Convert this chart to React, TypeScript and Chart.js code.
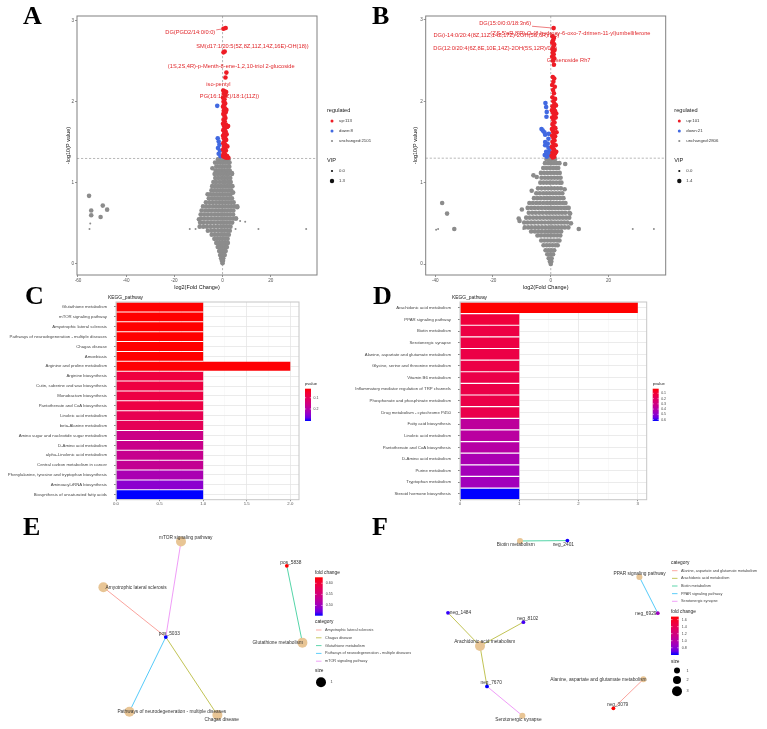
import React, { useEffect, useRef } from 'react';
import { Chart, registerables } from 'chart.js';

Chart.register(...registerables);

const SANS = "'Liberation Sans', Arial, Helvetica, sans-serif";
const SERIF = "'Liberation Serif', 'Times New Roman', Times, serif";
Chart.defaults.font.family = SANS;

type Pt = [number, number];
type Row = [number, number[]];

/* ---------------- Panel A: volcano plot ---------------- */
const volcA_xTicks = [-60, -40, -20, 0, 20];
const volcA_yTicks = [0, 1, 2, 3];
const volcA_regulated = ['up:113', 'down:8', 'unchanged:2101'];
const volcA_vipLevels = ['0.0', '1.3'];
const volcA_up: Pt[] = [
  [0.4, 2.9], [1.3, 2.91], [0.4, 2.61], [0.9, 2.62], [1.6, 2.36], [1.2, 2.3],
  [0.3, 2.14], [0.9, 2.13], [1.5, 2.12], [0.5, 2.1], [1.2, 2.08], [0.2, 2.05], [0.8, 2.03],
  [0.4, 2.0], [1.1, 1.98], [0.6, 1.96], [0.2, 1.94], [1.0, 1.92], [1.6, 1.9], [0.5, 1.89],
  [1.3, 1.87], [0.3, 1.85], [0.8, 1.83], [1.2, 1.8], [0.4, 1.78], [0.9, 1.76], [0.2, 1.73],
  [1.4, 1.72], [2.3, 1.7], [1.9, 1.69], [0.6, 1.7], [1.0, 1.67], [0.3, 1.65], [1.3, 1.63],
  [0.7, 1.61], [1.7, 1.6], [0.2, 1.58], [1.1, 1.57], [0.5, 1.55], [1.5, 1.53], [0.8, 1.51],
  [0.3, 1.49], [1.2, 1.47], [2.0, 1.45], [0.6, 1.45], [1.0, 1.43], [0.2, 1.41], [1.4, 1.4],
  [0.7, 1.38], [0.4, 1.36], [1.1, 1.35], [0.2, 1.33], [1.9, 1.33], [0.8, 1.32], [1.5, 1.31], [2.4, 1.31],
];
const volcA_down: Pt[] = [
  [-2.2, 1.95], [-2.0, 1.55], [-1.6, 1.51], [-1.3, 1.47], [-1.9, 1.43], [-1.1, 1.4], [-1.6, 1.36], [-0.9, 1.33],
];
const volcA_grayRows: Row[] = [
  [1.29, [-1.9, -0.7, 0.5, 1.6, 2.5]],
  [1.25, [-3.1, -2.0, -0.9, 0.2, 1.3, 2.4, 2.9]],
  [1.2, [-2.6, -1.4, -0.3, 0.8, 1.9, 2.8]],
  [1.15, [-2.9, -1.7, -0.5, 0.7, 1.8, 3.0]],
  [1.11, [-3.3, -2.1, -0.9, 0.3, 1.5, 2.5, 3.9]],
  [1.06, [-3.0, -1.7, -0.4, 0.8, 2.0, 3.2]],
  [1.01, [-3.8, -2.6, -1.2, 0.1, 1.2, 2.4, 3.4]],
  [0.96, [-4.3, -3.0, -1.8, -0.6, 0.7, 1.9, 3.0, 4.1]],
  [0.91, [-4.6, -3.4, -2.2, -1.0, 0.2, 1.4, 2.6, 3.6]],
  [0.86, [-5.1, -3.9, -2.6, -1.4, -0.2, 1.0, 2.2, 3.3]],
  [0.81, [-5.7, -4.4, -3.2, -2.0, -0.8, 0.5, 1.7, 2.9, 3.9]],
  [0.76, [-6.9, -5.5, -4.1, -2.7, -1.4, -0.2, 1.1, 2.3, 3.5, 4.6]],
  [0.71, [-8.1, -6.7, -5.3, -3.9, -2.6, -1.3, 0.0, 1.2, 2.5, 3.7, 4.9, 6.1]],
  [0.66, [-8.7, -7.2, -5.8, -4.4, -3.0, -1.7, -0.4, 0.9, 2.1, 3.3, 4.5]],
  [0.61, [-9.1, -7.7, -6.3, -4.8, -3.4, -2.0, -0.7, 0.6, 1.8, 3.1, 4.4]],
  [0.56, [-8.9, -7.4, -6.0, -4.5, -3.1, -1.8, -0.5, 0.8, 2.0, 3.2, 4.5, 5.6]],
  [0.51, [-9.3, -7.9, -6.4, -5.0, -3.6, -2.2, -0.9, 0.4, 1.6, 2.8, 4.0]],
  [0.46, [-9.5, -8.0, -6.5, -5.0, -3.5, -2.0, -0.6, 0.8, 2.0, 3.3]],
  [0.41, [-6.1, -4.6, -3.2, -1.8, -0.5, 0.8, 2.0, 3.0]],
  [0.36, [-4.5, -3.2, -2.0, -0.8, 0.4, 1.5, 2.6]],
  [0.31, [-3.4, -2.3, -1.2, -0.1, 1.0, 2.1]],
  [0.26, [-2.6, -1.6, -0.6, 0.4, 1.4, 2.2]],
  [0.21, [-2.0, -1.0, 0.0, 1.0, 1.8]],
  [0.16, [-1.4, -0.5, 0.5, 1.3]],
  [0.11, [-1.0, 0.0, 0.9]],
  [0.07, [-0.6, 0.3]],
  [0.04, [-0.3, 0.2]],
  [0.01, [0.0]],
];
const volcA_grayBig: Pt[] = [
  [-55.4, 0.84], [-54.5, 0.66], [-54.5, 0.6], [-49.7, 0.72], [-47.9, 0.67], [-50.6, 0.58],
  [3.9, 1.12], [6.1, 0.7], [5.5, 0.56], [-4.2, 1.18], [4.4, 0.88], [-6.2, 0.86], [-9.8, 0.55],
];
const volcA_graySmall: Pt[] = [
  [-54.9, 0.5], [-55.2, 0.43], [-13.6, 0.43], [-11.2, 0.43], [5.4, 0.43], [7.3, 0.53], [9.4, 0.52],
  [14.9, 0.43], [34.7, 0.43],
];
const volcA_labels = [
  { text: 'DG(PGD2/14:0/0:0)', at: [-13.4, 2.85], to: [0.4, 2.9] },
  { text: 'SM(d17:1/20:5(5Z,8Z,11Z,14Z,16E)-OH(18))', at: [12.4, 2.68] },
  { text: '(1S,2S,4R)-p-Menth-8-ene-1,2,10-triol 2-glucoside', at: [3.6, 2.43] },
  { text: 'iso-pentyl', at: [-1.7, 2.22] },
  { text: 'PG(16:1(9Z)/18:1(11Z))', at: [2.9, 2.06] },
];

/* ---------------- Panel B: volcano plot ---------------- */
const volcB_xTicks = [-40, -20, 0, 20];
const volcB_yTicks = [0, 1, 2, 3];
const volcB_regulated = ['up:101', 'down:21', 'unchanged:2806'];
const volcB_vipLevels = ['0.0', '1.4'];
const volcB_up: Pt[] = [
  [1.0, 2.9], [0.6, 2.8], [1.1, 2.78], [0.8, 2.75], [0.5, 2.72], [1.2, 2.7], [0.9, 2.67], [0.6, 2.64],
  [1.3, 2.63], [0.7, 2.6], [1.0, 2.58], [0.5, 2.55], [1.2, 2.53], [0.8, 2.5], [1.1, 2.45],
  [0.7, 2.3], [1.2, 2.28], [0.9, 2.24], [0.5, 2.2], [1.4, 2.18], [0.8, 2.14], [1.1, 2.1], [0.6, 2.05],
  [1.5, 2.03], [0.9, 2.0], [1.3, 1.97], [0.6, 1.94], [1.8, 1.95], [1.1, 1.92], [0.4, 1.89], [1.5, 1.88],
  [1.9, 1.85], [0.8, 1.86], [1.2, 1.83], [0.5, 1.8], [1.7, 1.8], [0.9, 1.77], [1.3, 1.74], [0.6, 1.72],
  [1.0, 1.69], [1.6, 1.67], [0.4, 1.66], [0.8, 1.63], [2.0, 1.62], [1.2, 1.61], [0.5, 1.58], [1.5, 1.57],
  [0.9, 1.55], [1.3, 1.52], [0.6, 1.5], [1.0, 1.47], [1.7, 1.46], [0.4, 1.44], [0.8, 1.42], [1.2, 1.4],
  [1.9, 1.38], [0.6, 1.37], [1.5, 1.36], [0.9, 1.34], [0.3, 1.33], [1.2, 1.32], [0.7, 1.31],
];
const volcB_down: Pt[] = [
  [-1.84, 1.98], [-1.6, 1.93], [-1.39, 1.87], [-1.49, 1.81], [-3.2, 1.66], [-2.77, 1.64], [-2.2, 1.62],
  [-1.94, 1.59], [-0.69, 1.6], [-0.8, 1.54], [-1.94, 1.5], [-1.04, 1.48], [-1.94, 1.46], [-0.8, 1.43],
  [-0.45, 1.39], [-1.6, 1.38], [-0.9, 1.36], [-2.08, 1.34], [-1.39, 1.32], [-0.45, 1.34], [-0.1, 1.36],
];
const volcB_grayRows: Row[] = [
  [1.29, [-1.5, -0.5, 0.5, 1.5]],
  [1.24, [-2.0, -0.9, 0.1, 1.1, 2.1]],
  [1.18, [-2.6, -1.5, -0.4, 0.7, 1.7, 2.6]],
  [1.12, [-3.4, -2.3, -1.2, -0.1, 1.0, 2.1, 3.1]],
  [1.06, [-3.2, -2.0, -0.9, 0.2, 1.3, 2.4, 3.4]],
  [1.0, [-3.6, -2.5, -1.4, -0.3, 0.8, 1.9, 3.0, 3.7]],
  [0.93, [-4.4, -3.2, -2.0, -0.9, 0.2, 1.3, 2.4, 3.5]],
  [0.87, [-5.0, -3.8, -2.6, -1.5, -0.4, 0.7, 1.8, 2.9, 4.0]],
  [0.81, [-5.8, -4.6, -3.4, -2.2, -1.1, 0.0, 1.1, 2.2, 3.3, 4.4]],
  [0.75, [-7.4, -6.2, -5.0, -3.8, -2.6, -1.4, -0.3, 0.8, 1.9, 3.0, 4.1, 5.1]],
  [0.69, [-8.0, -6.8, -5.6, -4.4, -3.2, -2.0, -0.9, 0.2, 1.3, 2.4, 3.5, 4.6, 5.6]],
  [0.63, [-7.6, -6.4, -5.2, -4.0, -2.8, -1.6, -0.5, 0.6, 1.7, 2.8, 3.9, 5.0, 6.4]],
  [0.57, [-8.5, -7.3, -6.1, -4.9, -3.7, -2.5, -1.3, -0.2, 0.9, 2.0, 3.1, 4.2, 5.3, 6.4]],
  [0.51, [-9.2, -8.0, -6.8, -5.6, -4.4, -3.2, -2.0, -0.8, 0.3, 1.4, 2.5, 3.6, 4.7, 5.8]],
  [0.45, [-9.0, -7.8, -6.6, -5.4, -4.2, -3.0, -1.8, -0.6, 0.5, 1.6, 2.7, 3.8, 4.9, 6.1]],
  [0.4, [-6.8, -5.5, -4.3, -3.1, -1.9, -0.8, 0.3, 1.4, 2.5, 3.6]],
  [0.35, [-4.6, -3.4, -2.2, -1.1, 0.0, 1.1, 2.2, 3.3]],
  [0.29, [-3.3, -2.2, -1.1, 0.0, 1.1, 2.2, 3.0]],
  [0.23, [-2.5, -1.4, -0.4, 0.6, 1.6, 2.4]],
  [0.17, [-1.8, -0.8, 0.2, 1.2]],
  [0.12, [-1.2, -0.2, 0.8]],
  [0.07, [-0.7, 0.3]],
  [0.03, [-0.3, 0.2]],
  [0.0, [0.0]],
];
const volcB_grayBig: Pt[] = [
  [-37.6, 0.75], [-35.9, 0.62], [-33.4, 0.43], [3.0, 1.24], [5.0, 1.23], [-6.0, 1.09], [-4.85, 1.07],
  [-10.0, 0.67], [-10.8, 0.53], [-11.1, 0.56], [6.2, 0.69], [6.7, 0.62], [9.7, 0.43], [4.8, 0.92],
  [-6.6, 0.9], [7.0, 0.5],
];
const volcB_graySmall: Pt[] = [[-39.0, 0.43], [-39.7, 0.42], [28.4, 0.43], [35.7, 0.43], [-9.5, 0.43]];
const volcB_labels = [
  { text: 'DG(15:0/0:0/18:3n6)', at: [-15.8, 2.96], to: [1.0, 2.9] },
  { text: "(2'S,5'aR,8'R)-O-(8-hydroxy-6-oxo-7-drimen-11-yl)umbelliferone", at: [6.8, 2.84] },
  { text: 'DG(i-14:0/20:4(8Z,11Z,14Z,17Z)-2OH(5S,6R)/0:0)', at: [-18.8, 2.81] },
  { text: 'DG(12:0/20:4(6Z,8E,10E,14Z)-2OH(5S,12R)/0:0)', at: [-19.2, 2.65] },
  { text: 'Ginsenoside Rh7', at: [6.2, 2.5], to: [0.7, 2.62] },
];

/* ---------------- Panel C: KEGG enrichment ---------------- */
const keggC_pathways = [
  'Glutathione metabolism',
  'mTOR signaling pathway',
  'Amyotrophic lateral sclerosis',
  'Pathways of neurodegeneration - multiple diseases',
  'Chagas disease',
  'Amoebiasis',
  'Arginine and proline metabolism',
  'Arginine biosynthesis',
  'Cutin, suberine and wax biosynthesis',
  'Monobactam biosynthesis',
  'Pantothenate and CoA biosynthesis',
  'Linoleic acid metabolism',
  'beta-Alanine metabolism',
  'Amino sugar and nucleotide sugar metabolism',
  'D-Amino acid metabolism',
  'alpha-Linolenic acid metabolism',
  'Central carbon metabolism in cancer',
  'Phenylalanine, tyrosine and tryptophan biosynthesis',
  'Aminoacyl-tRNA biosynthesis',
  'Biosynthesis of unsaturated fatty acids',
];
const keggC_counts = [1, 1, 1, 1, 1, 1, 2, 1, 1, 1, 1, 1, 1, 1, 1, 1, 1, 1, 1, 1];
const keggC_pvalues = [
  0.02, 0.02, 0.02, 0.02, 0.02, 0.02, 0.022, 0.072, 0.074, 0.076, 0.078, 0.095, 0.1,
  0.16, 0.165, 0.17, 0.175, 0.215, 0.25, 0.3065,
];
const keggC_xMajor = [0, 0.5, 1, 1.5, 2];
const keggC_xMinor = [0.25, 0.75, 1.25, 1.75];
const keggC_pTicks = [0.1, 0.2];

/* ---------------- Panel D: KEGG enrichment ---------------- */
const keggD_pathways = [
  'Arachidonic acid metabolism',
  'PPAR signaling pathway',
  'Biotin metabolism',
  'Serotonergic synapse',
  'Alanine, aspartate and glutamate metabolism',
  'Glycine, serine and threonine metabolism',
  'Vitamin B6 metabolism',
  'Inflammatory mediator regulation of TRP channels',
  'Phosphonate and phosphinate metabolism',
  'Drug metabolism - cytochrome P450',
  'Fatty acid biosynthesis',
  'Linoleic acid metabolism',
  'Pantothenate and CoA biosynthesis',
  'D-Amino acid metabolism',
  'Purine metabolism',
  'Tryptophan metabolism',
  'Steroid hormone biosynthesis',
];
const keggD_counts = [3, 1, 1, 1, 1, 1, 1, 1, 1, 1, 1, 1, 1, 1, 1, 1, 1];
const keggD_pvalues = [
  0.0116, 0.116, 0.135, 0.135, 0.141, 0.141, 0.147, 0.147, 0.147, 0.153,
  0.368, 0.381, 0.393, 0.43, 0.448, 0.454, 0.627,
];
const keggD_xMajor = [0, 1, 2, 3];
const keggD_xMinor = [0.5, 1.5, 2.5];
const keggD_pTicks = [0.1, 0.2, 0.3, 0.4, 0.5, 0.6];

/* ---------------- Panel E: gene–pathway network ---------------- */
const netE_pathways = [
  { name: 'Amyotrophic lateral sclerosis', x: 1.17, y: 6.87, size: 1 },
  { name: 'Chagas disease', x: 6.87, y: 0.45, size: 1 },
  { name: 'Glutathione metabolism', x: 11.12, y: 4.09, size: 1 },
  { name: 'Pathways of neurodegeneration - multiple diseases', x: 2.47, y: 0.62, size: 1 },
  { name: 'mTOR signaling pathway', x: 5.05, y: 9.17, size: 1 },
];
const netE_genes = [
  { name: 'pos_5033', x: 4.29, y: 4.37, fc: 0.454 },
  { name: 'pos_5838', x: 10.34, y: 7.95, fc: 0.627 },
];
const netE_links: [string, string][] = [
  ['pos_5033', 'Amyotrophic lateral sclerosis'],
  ['pos_5033', 'mTOR signaling pathway'],
  ['pos_5033', 'Pathways of neurodegeneration - multiple diseases'],
  ['pos_5033', 'Chagas disease'],
  ['pos_5838', 'Glutathione metabolism'],
];
const netE_fcTicks = [0.6, 0.55, 0.5];
const netE_sizeBreaks = [1];

/* ---------------- Panel F: gene–pathway network ---------------- */
const netF_pathways = [
  { name: 'Alanine, aspartate and glutamate metabolism', x: 10.17, y: 2.25, size: 1 },
  { name: 'Arachidonic acid metabolism', x: 2.0, y: 3.92, size: 3 },
  { name: 'Biotin metabolism', x: 4.0, y: 9.2, size: 1 },
  { name: 'PPAR signaling pathway', x: 9.97, y: 7.39, size: 1 },
  { name: 'Serotonergic synapse', x: 4.12, y: 0.42, size: 1 },
];
const netF_genes = [
  { name: 'neg_2401', x: 6.37, y: 9.22, fc: 0.6 },
  { name: 'neg_6929', x: 10.89, y: 5.57, fc: 0.88 },
  { name: 'neg_1484', x: 0.4, y: 5.59, fc: 0.62 },
  { name: 'neg_8102', x: 4.17, y: 5.12, fc: 0.64 },
  { name: 'neg_7670', x: 2.35, y: 1.89, fc: 0.594 },
  { name: 'neg_3079', x: 8.67, y: 0.79, fc: 1.685 },
];
const netF_links: [string, string][] = [
  ['neg_2401', 'Biotin metabolism'],
  ['neg_6929', 'PPAR signaling pathway'],
  ['neg_1484', 'Arachidonic acid metabolism'],
  ['neg_8102', 'Arachidonic acid metabolism'],
  ['neg_7670', 'Arachidonic acid metabolism'],
  ['neg_7670', 'Serotonergic synapse'],
  ['neg_3079', 'Alanine, aspartate and glutamate metabolism'],
];
const netF_fcTicks = [1.6, 1.4, 1.2, 1.0, 0.8];
const netF_sizeBreaks = [1, 2, 3];

/* ---------------- colour helpers ---------------- */
function labFromRgb(rgb: number[]) {
  const lin = rgb.map((c) => {
    const v = c / 255;
    return v <= 0.04045 ? v / 12.92 : Math.pow((v + 0.055) / 1.055, 2.4);
  });
  const X = (0.4124 * lin[0] + 0.3576 * lin[1] + 0.1805 * lin[2]) / 0.95047;
  const Y = 0.2126 * lin[0] + 0.7152 * lin[1] + 0.0722 * lin[2];
  const Z = (0.0193 * lin[0] + 0.1192 * lin[1] + 0.9505 * lin[2]) / 1.08883;
  const f = (t: number) => (t > 0.008856 ? Math.cbrt(t) : 7.787 * t + 16 / 116);
  const fx = f(X), fy = f(Y), fz = f(Z);
  return [116 * fy - 16, 500 * (fx - fy), 200 * (fy - fz)];
}
function rgbFromLab(lab: number[]) {
  const [L, a, b] = lab;
  const fy = (L + 16) / 116, fx = fy + a / 500, fz = fy - b / 200;
  const inv = (t: number) => (t * t * t > 0.008856 ? t * t * t : (t - 16 / 116) / 7.787);
  const X = 0.95047 * inv(fx), Y = inv(fy), Z = 1.08883 * inv(fz);
  const r = 3.2406 * X - 1.5372 * Y - 0.4986 * Z;
  const g = -0.9689 * X + 1.8758 * Y + 0.0415 * Z;
  const bl = 0.0557 * X - 0.204 * Y + 1.057 * Z;
  const enc = (c: number) => {
    const cc = Math.max(0, c);
    const v = cc <= 0.0031308 ? 12.92 * cc : 1.055 * Math.pow(cc, 1 / 2.4) - 0.055;
    return Math.round(Math.min(1, Math.max(0, v)) * 255);
  };
  return `rgb(${enc(r)},${enc(g)},${enc(bl)})`;
}
const LAB_RED = labFromRgb([255, 0, 0]);
const LAB_BLUE = labFromRgb([0, 0, 255]);
// t = 0 -> red, t = 1 -> blue, blended in CIELAB
function redToBlue(t: number) {
  const k = Math.min(1, Math.max(0, t));
  return rgbFromLab(LAB_RED.map((v, i) => v + (LAB_BLUE[i] - v) * k));
}
const HUE5 = ['#F8766D', '#A3A500', '#00BF7D', '#00B0F6', '#E76BF3'];
function withAlpha(hex: string, a: number) {
  const n = parseInt(hex.slice(1), 16);
  return `rgba(${(n >> 16) & 255},${(n >> 8) & 255},${n & 255},${a})`;
}

const UP_RED = '#EE1C25';
const DOWN_BLUE = '#4169E1';
const NC_GRAY = '#8C8C8C';
const LABEL_RED = '#E0262A';
const NODE_TAN = '#E8C595';

const toXY = (p: Pt) => ({ x: p[0], y: p[1] });
const rowsToXY = (rows: Row[]) => rows.flatMap(([y, xs]) => xs.map((x) => ({ x, y })));

/* ---------------- plugins ---------------- */
const volcanoDecor = {
  id: 'volcanoDecor',
  beforeDatasetsDraw(chart: any, _a: any, o: any) {
    const { ctx, chartArea: a, scales } = chart;
    ctx.save();
    ctx.strokeStyle = '#9a9a9a';
    ctx.lineWidth = 0.7;
    ctx.setLineDash([2.2, 1.8]);
    const yp = scales.y.getPixelForValue(o.pCut);
    ctx.beginPath();
    ctx.moveTo(a.left, yp);
    ctx.lineTo(a.right, yp);
    ctx.stroke();
    const xp = scales.x.getPixelForValue(0);
    ctx.beginPath();
    ctx.moveTo(xp, a.top);
    ctx.lineTo(xp, a.bottom);
    ctx.stroke();
    ctx.restore();
  },
  afterDatasetsDraw(chart: any, _a: any, o: any) {
    const { ctx, chartArea: a, scales } = chart;
    ctx.save();
    // compound labels
    ctx.font = `5.7px ${SANS}`;
    ctx.fillStyle = LABEL_RED;
    ctx.strokeStyle = LABEL_RED;
    ctx.lineWidth = 0.6;
    ctx.textAlign = 'center';
    ctx.textBaseline = 'middle';
    for (const lb of o.labels) {
      const cx = scales.x.getPixelForValue(lb.at[0]);
      const cy = scales.y.getPixelForValue(lb.at[1]);
      if (lb.to) {
        const w = ctx.measureText(lb.text).width;
        const tx = scales.x.getPixelForValue(lb.to[0]);
        const ty = scales.y.getPixelForValue(lb.to[1]);
        const sx = Math.min(Math.max(tx, cx - w / 2 - 1), cx + w / 2 + 1);
        const sy = Math.min(Math.max(ty, cy - 3), cy + 3);
        ctx.beginPath();
        ctx.moveTo(sx, sy);
        ctx.lineTo(tx, ty);
        ctx.stroke();
      }
      ctx.fillText(lb.text, cx, cy);
    }
    // panel frame
    ctx.strokeStyle = '#808080';
    ctx.lineWidth = 1;
    ctx.strokeRect(a.left, a.top, a.right - a.left, a.bottom - a.top);
    // legend
    const lx = a.right + o.legendGap;
    ctx.textAlign = 'left';
    ctx.fillStyle = '#1a1a1a';
    ctx.font = `5.6px ${SANS}`;
    ctx.fillText('regulated', lx, 110);
    ctx.fillText('VIP', lx, 160);
    ctx.font = `4.3px ${SANS}`;
    o.regulated.forEach((t: string, i: number) => {
      const y = 121 + i * 10;
      ctx.fillStyle = [UP_RED, DOWN_BLUE, NC_GRAY][i];
      ctx.beginPath();
      ctx.arc(lx + 5, y, i < 2 ? 1.5 : 1.1, 0, Math.PI * 2);
      ctx.fill();
      ctx.fillStyle = '#333';
      ctx.fillText(t, lx + 12, y);
    });
    o.vip.forEach((t: string, i: number) => {
      const y = 171 + i * 10;
      ctx.fillStyle = '#111';
      ctx.beginPath();
      ctx.arc(lx + 5, y, i === 0 ? 1.1 : 2.2, 0, Math.PI * 2);
      ctx.fill();
      ctx.fillStyle = '#333';
      ctx.fillText(t, lx + 12, y);
    });
    ctx.restore();
  },
};

const keggDecor = {
  id: 'keggDecor',
  afterDraw(chart: any, _a: any, o: any) {
    const { ctx, chartArea: a } = chart;
    ctx.save();
    ctx.strokeStyle = '#c6c6c6';
    ctx.lineWidth = 1;
    ctx.strokeRect(a.left, a.top, a.right - a.left, a.bottom - a.top);
    ctx.fillStyle = '#1a1a1a';
    ctx.font = `4.9px ${SANS}`;
    ctx.textAlign = 'left';
    ctx.textBaseline = 'middle';
    ctx.fillText('KEGG_pathway', a.left - 8, a.top - 4);
    // p-value colour bar
    const bx = a.right + 6;
    const top = a.top + 86.7;
    const bottom = a.top + 119;
    const bw = 6;
    ctx.font = `4.1px ${SANS}`;
    ctx.fillText('pvalue', bx, top - 5);
    const grad = ctx.createLinearGradient(0, top, 0, bottom);
    for (let i = 0; i <= 10; i++) grad.addColorStop(i / 10, redToBlue(i / 10));
    ctx.fillStyle = grad;
    ctx.fillRect(bx, top, bw, bottom - top);
    ctx.font = `3.5px ${SANS}`;
    ctx.fillStyle = '#444';
    ctx.strokeStyle = '#ffffff';
    ctx.lineWidth = 0.5;
    for (const v of o.ticks) {
      const y = top + ((v - o.pmin) / (o.pmax - o.pmin)) * (bottom - top);
      ctx.beginPath();
      ctx.moveTo(bx, y);
      ctx.lineTo(bx + 1.2, y);
      ctx.moveTo(bx + bw - 1.2, y);
      ctx.lineTo(bx + bw, y);
      ctx.stroke();
      ctx.fillText(String(v), bx + bw + 2.5, y);
    }
    ctx.restore();
  },
};

const netDecor = {
  id: 'netDecor',
  afterDatasetsDraw(chart: any, _a: any, o: any) {
    const { ctx, scales } = chart;
    ctx.save();
    ctx.font = `4.8px ${SANS}`;
    ctx.fillStyle = '#333';
    ctx.textAlign = 'center';
    ctx.textBaseline = 'middle';
    for (const n of o.nodes) {
      const d = o.nudges[n.name] || [0, 0];
      ctx.fillText(n.name, scales.x.getPixelForValue(n.x) + d[0], scales.y.getPixelForValue(n.y) + d[1]);
    }
    ctx.textAlign = 'left';
    for (const b of o.blocks) {
      ctx.fillStyle = '#222';
      ctx.font = `4.8px ${SANS}`;
      ctx.fillText(b.title, b.x, b.titleY);
      if (b.kind === 'colorbar') {
        const grad = ctx.createLinearGradient(0, b.top, 0, b.bottom);
        for (let i = 0; i <= 10; i++) grad.addColorStop(i / 10, redToBlue(i / 10));
        ctx.fillStyle = grad;
        ctx.fillRect(b.x, b.top, b.width, b.bottom - b.top);
        ctx.font = `3.6px ${SANS}`;
        ctx.strokeStyle = '#fff';
        ctx.lineWidth = 0.5;
        for (const v of b.ticks) {
          const y = b.top + ((b.vmax - v) / (b.vmax - b.vmin)) * (b.bottom - b.top);
          ctx.beginPath();
          ctx.moveTo(b.x, y);
          ctx.lineTo(b.x + 1.5, y);
          ctx.moveTo(b.x + b.width - 1.5, y);
          ctx.lineTo(b.x + b.width, y);
          ctx.stroke();
          ctx.fillStyle = '#444';
          ctx.fillText(v.toFixed(b.digits), b.x + b.width + 3, y);
        }
      } else if (b.kind === 'category') {
        ctx.font = `3.8px ${SANS}`;
        b.items.forEach((name: string, i: number) => {
          const y = b.firstY + i * b.step;
          ctx.strokeStyle = withAlpha(HUE5[i], 0.8);
          ctx.lineWidth = 0.8;
          ctx.beginPath();
          ctx.moveTo(b.x + 1, y);
          ctx.lineTo(b.x + 6.5, y);
          ctx.stroke();
          ctx.fillStyle = '#444';
          ctx.fillText(name, b.x + 10, y);
        });
      } else if (b.kind === 'size') {
        ctx.font = `3.8px ${SANS}`;
        b.circles.forEach((c: any) => {
          ctx.fillStyle = '#000';
          ctx.beginPath();
          ctx.arc(b.cx, c.y, c.r, 0, Math.PI * 2);
          ctx.fill();
          ctx.fillStyle = '#444';
          ctx.fillText(c.label, b.textX, c.y);
        });
      }
    }
    ctx.restore();
  },
};

/* ---------------- chart builders ---------------- */
const BASE = {
  animation: false,
  responsive: false,
  maintainAspectRatio: false,
  devicePixelRatio: 1,
  events: [] as string[],
};

function volcanoConfig(p: any) {
  const fixedTicks = (vals: number[]) => (s: any) => {
    s.ticks = vals.map((v) => ({ value: v }));
  };
  const tickFont = { size: 4.6 };
  return {
    type: 'scatter',
    data: {
      datasets: [
        { data: p.up.map(toXY), backgroundColor: UP_RED, pointRadius: 2.3, borderWidth: 0, order: 1 },
        { data: p.down.map(toXY), backgroundColor: DOWN_BLUE, pointRadius: 2.3, borderWidth: 0, order: 2 },
        {
          data: rowsToXY(p.grayRows).concat(p.grayBig.map(toXY)),
          backgroundColor: NC_GRAY, pointRadius: 2.3, borderWidth: 0, order: 3,
        },
        { data: p.graySmall.map(toXY), backgroundColor: NC_GRAY, pointRadius: 1.0, borderWidth: 0, order: 4 },
      ],
    },
    options: {
      ...BASE,
      layout: { padding: p.padding },
      plugins: {
        legend: { display: false },
        tooltip: { enabled: false },
        volcanoDecor: {
          pCut: -Math.log10(0.05),
          labels: p.labels,
          regulated: p.regulated,
          vip: p.vip,
          legendGap: p.legendGap,
        },
      },
      scales: {
        x: {
          type: 'linear',
          min: p.xRange[0],
          max: p.xRange[1],
          afterBuildTicks: fixedTicks(p.xTicks),
          afterFit: (s: any) => { s.height = p.xAxisHeight; },
          ticks: { font: tickFont, color: '#555', padding: 1, maxRotation: 0, callback: (v: any) => String(v) },
          grid: { drawOnChartArea: false, drawTicks: true, tickLength: 2, tickColor: '#666', lineWidth: 0.7 },
          border: { display: false },
          title: { display: true, text: 'log2(Fold Change)', font: { size: 5.5 }, color: '#111', padding: { top: 0, bottom: p.xTitlePad } },
        },
        y: {
          type: 'linear',
          min: p.yRange[0],
          max: p.yRange[1],
          afterBuildTicks: fixedTicks(p.yTicks),
          afterFit: (s: any) => { s.width = p.yAxisWidth; },
          ticks: { font: tickFont, color: '#555', padding: 1, callback: (v: any) => String(v) },
          grid: { drawOnChartArea: false, drawTicks: true, tickLength: 2, tickColor: '#666', lineWidth: 0.7 },
          border: { display: false },
          title: { display: true, text: '-log10(P value)', font: { size: 5.5 }, color: '#111', padding: { top: p.yTitlePad, bottom: 0 } },
        },
      },
    },
    plugins: [volcanoDecor],
  };
}

function keggConfig(p: any) {
  const pmin = Math.min(...p.pvalues);
  const pmax = Math.max(...p.pvalues);
  const isMajor = (v: number) => p.xMajor.some((m: number) => Math.abs(m - v) < 1e-9);
  return {
    type: 'bar',
    data: {
      labels: p.pathways,
      datasets: [
        {
          data: p.counts,
          backgroundColor: p.pvalues.map((v: number) => redToBlue((v - pmin) / (pmax - pmin))),
          borderWidth: 0,
          barPercentage: 0.9,
          categoryPercentage: 1,
        },
      ],
    },
    options: {
      ...BASE,
      indexAxis: 'y',
      layout: { padding: p.padding },
      plugins: {
        legend: { display: false },
        tooltip: { enabled: false },
        keggDecor: { pmin, pmax, ticks: p.pTicks },
      },
      scales: {
        x: {
          type: 'linear',
          min: 0,
          max: p.xMax,
          afterBuildTicks: (s: any) => {
            s.ticks = [...p.xMajor, ...p.xMinor].sort((a, b) => a - b).map((v) => ({ value: v }));
          },
          afterFit: (s: any) => { s.height = p.xAxisHeight; },
          ticks: {
            font: { size: 4.3 },
            color: '#555',
            padding: 0,
            maxRotation: 0,
            autoSkip: false,
            callback: (v: any) => (isMajor(v) ? p.fmt(v) : ''),
          },
          grid: {
            color: (c: any) => (isMajor(c.tick.value) ? '#e6e6e6' : '#f2f2f2'),
            lineWidth: (c: any) => (isMajor(c.tick.value) ? 0.8 : 0.5),
            tickColor: (c: any) => (isMajor(c.tick.value) ? '#666' : 'rgba(0,0,0,0)'),
            tickLength: 1.5,
          },
          border: { display: false },
        },
        y: {
          type: 'category',
          afterFit: (s: any) => { s.width = p.yAxisWidth; },
          ticks: { font: { size: 4.3 }, color: '#444', padding: 7, autoSkip: false },
          grid: { offset: false, color: '#e6e6e6', lineWidth: 0.8, tickLength: 2, tickColor: '#666' },
          border: { display: false },
        },
      },
    },
    plugins: [keggDecor],
  };
}

function networkConfig(p: any) {
  const sizes = p.pathways.map((c: any) => c.size);
  const smin = Math.min(...sizes);
  const smax = Math.max(...sizes);
  const radius = (s: number) => (smax === smin ? 5 : 3 + (2 * (s - smin)) / (smax - smin));
  const fcs = p.genes.map((g: any) => g.fc);
  const fmin = Math.min(...fcs);
  const fmax = Math.max(...fcs);
  const fcColor = (v: number) => redToBlue((fmax - v) / (fmax - fmin));
  const cat = (name: string) => p.pathways.find((c: any) => c.name === name);
  const gene = (name: string) => p.genes.find((g: any) => g.name === name);
  const edges = p.links.map(([g, c]: [string, string]) => {
    const gn = gene(g);
    const cn = cat(c);
    const idx = p.pathways.indexOf(cn);
    return {
      data: [{ x: gn.x, y: gn.y }, { x: cn.x, y: cn.y }],
      showLine: true,
      borderColor: withAlpha(HUE5[idx], 0.75),
      borderWidth: 0.9,
      pointRadius: 0,
      order: 3,
      clip: false,
    };
  });
  const lg = p.legend;
  const blocks: any[] = [];
  const catBlock = {
    kind: 'category', title: 'category', x: lg.x, titleY: lg.catY,
    items: p.pathways.map((c: any) => c.name), firstY: lg.catY + 8, step: lg.catStep,
  };
  const fcBlock = {
    kind: 'colorbar', title: 'fold change', x: lg.x, titleY: lg.fcY,
    top: lg.fcY + 4.6, bottom: lg.fcY + 43, width: 7.7,
    vmin: fmin, vmax: fmax, ticks: p.fcTicks, digits: p.fcDigits,
  };
  let cy = lg.sizeY + 5;
  const circles = p.sizeBreaks.map((s: number) => {
    const r = radius(s);
    cy += r + 1.2;
    const c = { r, y: cy, label: String(s) };
    cy += r + 1.2;
    return c;
  });
  const sizeBlock = {
    kind: 'size', title: 'size', x: lg.x, titleY: lg.sizeY,
    cx: lg.x + 6, textX: lg.x + 15.5, circles,
  };
  if (p.categoryFirst) blocks.push(catBlock, fcBlock, sizeBlock);
  else blocks.push(fcBlock, catBlock, sizeBlock);
  return {
    type: 'scatter',
    data: {
      datasets: [
        ...edges,
        {
          data: p.pathways.map((c: any) => ({ x: c.x, y: c.y })),
          pointRadius: p.pathways.map((c: any) => radius(c.size)),
          backgroundColor: NODE_TAN,
          borderWidth: 0,
          order: 2,
          clip: false,
        },
        {
          data: p.genes.map((g: any) => ({ x: g.x, y: g.y })),
          pointRadius: 1.9,
          backgroundColor: p.genes.map((g: any) => fcColor(g.fc)),
          borderWidth: 0,
          order: 1,
          clip: false,
        },
      ],
    },
    options: {
      ...BASE,
      layout: { padding: p.padding },
      plugins: {
        legend: { display: false },
        tooltip: { enabled: false },
        netDecor: { nodes: [...p.pathways, ...p.genes], nudges: p.nudges, blocks },
      },
      scales: {
        x: { type: 'linear', display: false, min: 0, max: p.xMax },
        y: { type: 'linear', display: false, min: 0, max: 9.5 },
      },
    },
    plugins: [netDecor],
  };
}

/* ---------------- panels ---------------- */
const panels = [
  {
    box: { left: 0, top: 0, width: 380, height: 295 },
    make: () =>
      volcanoConfig({
        up: volcA_up, down: volcA_down, grayRows: volcA_grayRows, grayBig: volcA_grayBig, graySmall: volcA_graySmall,
        labels: volcA_labels, regulated: volcA_regulated, vip: volcA_vipLevels,
        xTicks: volcA_xTicks, yTicks: volcA_yTicks, xRange: [-60.4, 39.2], yRange: [-0.136, 3.058],
        padding: { left: 0, top: 16, right: 63, bottom: 0 },
        yAxisWidth: 77, xAxisHeight: 20, yTitlePad: 64.7, xTitlePad: 4.7, legendGap: 10,
      }),
  },
  {
    box: { left: 380, top: 0, width: 387, height: 295 },
    make: () =>
      volcanoConfig({
        up: volcB_up, down: volcB_down, grayRows: volcB_grayRows, grayBig: volcB_grayBig, graySmall: volcB_graySmall,
        labels: volcB_labels, regulated: volcB_regulated, vip: volcB_vipLevels,
        xTicks: volcB_xTicks, yTicks: volcB_yTicks, xRange: [-43.3, 39.8], yRange: [-0.135, 3.049],
        padding: { left: 0, top: 16, right: 101.3, bottom: 0 },
        yAxisWidth: 45.7, xAxisHeight: 20, yTitlePad: 31.7, xTitlePad: 4.7, legendGap: 8.6,
      }),
  },
  {
    box: { left: 0, top: 285, width: 340, height: 225 },
    make: () =>
      keggConfig({
        pathways: keggC_pathways, counts: keggC_counts, pvalues: keggC_pvalues,
        xMajor: keggC_xMajor, xMinor: keggC_xMinor, xMax: 2.1, pTicks: keggC_pTicks,
        fmt: (v: number) => v.toFixed(1),
        padding: { left: 0, top: 17, right: 41, bottom: 0 }, yAxisWidth: 116, xAxisHeight: 10.3,
      }),
  },
  {
    box: { left: 340, top: 285, width: 427, height: 225 },
    make: () =>
      keggConfig({
        pathways: keggD_pathways, counts: keggD_counts, pvalues: keggD_pvalues,
        xMajor: keggD_xMajor, xMinor: keggD_xMinor, xMax: 3.15, pTicks: keggD_pTicks,
        fmt: (v: number) => String(v),
        padding: { left: 0, top: 17, right: 120.3, bottom: 0 }, yAxisWidth: 120, xAxisHeight: 10.3,
      }),
  },
  {
    box: { left: 0, top: 520, width: 420, height: 209 },
    make: () =>
      networkConfig({
        pathways: netE_pathways, genes: netE_genes, links: netE_links, fcTicks: netE_fcTicks, fcDigits: 2,
        sizeBreaks: netE_sizeBreaks,
        xMax: 12, padding: { left: 80, right: 100, top: 15, bottom: 4 },
        categoryFirst: false,
        legend: { x: 315, fcY: 52.7, catY: 102, catStep: 7.8, sizeY: 151 },
        nudges: {
          'mTOR signaling pathway': [4.7, -4],
          'Amyotrophic lateral sclerosis': [32.7, 0.6],
          pos_5033: [3.5, -3.4],
          'Pathways of neurodegeneration - multiple diseases': [42.4, 0],
          'Chagas disease': [4.4, 4.3],
          pos_5838: [4.1, -3.3],
          'Glutathione metabolism': [-24.6, 0],
        },
      }),
  },
  {
    box: { left: 380, top: 520, width: 387, height: 209 },
    make: () =>
      networkConfig({
        pathways: netF_pathways, genes: netF_genes, links: netF_links, fcTicks: netF_fcTicks, fcDigits: 1,
        sizeBreaks: netF_sizeBreaks,
        xMax: 11.5, padding: { left: 60, right: 97, top: 15, bottom: 4 },
        categoryFirst: true,
        legend: { x: 291, catY: 42.7, catStep: 7.65, fcY: 92, sizeY: 141.3 },
        nudges: {
          'Biotin metabolism': [-4.2, 4],
          neg_2401: [-4.1, 4],
          'PPAR signaling pathway': [0.2, -3.3],
          neg_6929: [-12, 0.3],
          neg_1484: [12.5, 0],
          neg_8102: [4.2, -3.4],
          'Arachidonic acid metabolism': [4.7, -4.4],
          neg_7670: [4.2, -3.3],
          'Serotonergic synapse': [-4, 4.3],
          'Alanine, aspartate and glutamate metabolism': [-45, 0],
          neg_3079: [4.2, -3.3],
        },
      }),
  },
];

const panelLetters = [
  { text: 'A', left: 23, top: 3 },
  { text: 'B', left: 372, top: 3 },
  { text: 'C', left: 25, top: 283 },
  { text: 'D', left: 373, top: 283 },
  { text: 'E', left: 23, top: 514 },
  { text: 'F', left: 372, top: 514 },
];

function ChartCanvas({ box, make }: { box: any; make: () => any }) {
  const ref = useRef<HTMLCanvasElement | null>(null);
  useEffect(() => {
    if (!ref.current) return;
    const chart = new Chart(ref.current, make());
    return () => chart.destroy();
  }, []);
  return (
    <canvas
      ref={ref}
      width={box.width}
      height={box.height}
      style={{ position: 'absolute', left: box.left, top: box.top, width: box.width, height: box.height }}
    />
  );
}

export default function App() {
  return (
    <div style={{ position: 'absolute', left: 0, top: 0, width: 767, height: 729, background: '#fff', overflow: 'hidden' }}>
      {panels.map((p, i) => (
        <ChartCanvas key={i} box={p.box} make={p.make} />
      ))}
      {panelLetters.map((l) => (
        <div
          key={l.text}
          style={{
            position: 'absolute', left: l.left, top: l.top, margin: 0,
            font: `bold 26px ${SERIF}`, lineHeight: '26px', color: '#000',
          }}
        >
          {l.text}
        </div>
      ))}
    </div>
  );
}
